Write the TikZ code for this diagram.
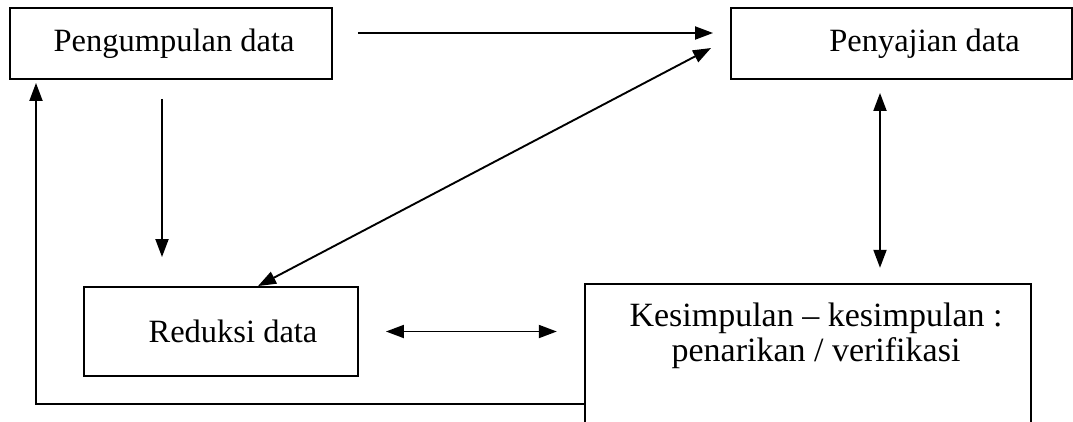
\documentclass[tikz,border=0pt]{standalone}
\usepackage{fontspec}
\setmainfont{Liberation Serif}
\usetikzlibrary{arrows.meta,calc}
\begin{document}
\begin{tikzpicture}[x=1pt,y=-1pt,
  box/.style={draw,line width=1.9pt,inner sep=0pt,font=\fontsize{32.5}{36}\selectfont},
  arr/.style={line width=1.9pt,-{Triangle[length=18pt,width=13pt]}},
  darr/.style={line width=1.9pt,{Triangle[length=18pt,width=13pt]}-{Triangle[length=18pt,width=13pt]}}]
\useasboundingbox (0,0) rectangle (1073,421);
\node[box,minimum width=322pt,minimum height=71pt] (peng) at (171,43.5) {\hspace*{6pt}Pengumpulan data};
\node[box,minimum width=341pt,minimum height=71pt] (pen) at (901.5,43.5) {\hspace*{46pt}Penyajian data};
\node[box,minimum width=274pt,minimum height=89pt] (red) at (221,331.5) {\hspace*{24pt}Reduksi data};
\node[inner sep=0pt,minimum width=446pt,minimum height=160pt] (kes) at (808,364) {};
\node[font=\fontsize{34}{35}\selectfont,align=center,inner sep=0pt] (kest) at (816,336) {Kesimpulan -- kesimpulan :\\penarikan / verifikasi};
\draw[line width=1.9pt] (kes.south west) -- (kes.north west) -- (kes.north east) -- (kes.south east);
\coordinate (fb) at (36,404);
% arrows
\draw[arr] ([xshift=25pt,yshift=10.5pt]peng.east) -- ([xshift=-17pt,yshift=10.5pt]pen.west);
\draw[darr] ([xshift=-19pt,yshift=-4.5pt]pen.west) -- ([xshift=37pt]red.north);
\draw[arr] ([xshift=-9pt,yshift=-19pt]peng.south) -- ([xshift=-59pt,yshift=29pt]red.north);
\draw[darr] ([xshift=-21.5pt,yshift=-13pt]pen.south) -- ([xshift=72pt,yshift=16pt]kes.north);
\draw[darr] ([xshift=27pt]red.east) -- ($(kes.west |- red.east)+(-28,0)$);
\draw[arr] (kes.west |- fb) -- (fb) -- ($(fb |- peng.south)+(0,3)$);
\end{tikzpicture}
\end{document}
